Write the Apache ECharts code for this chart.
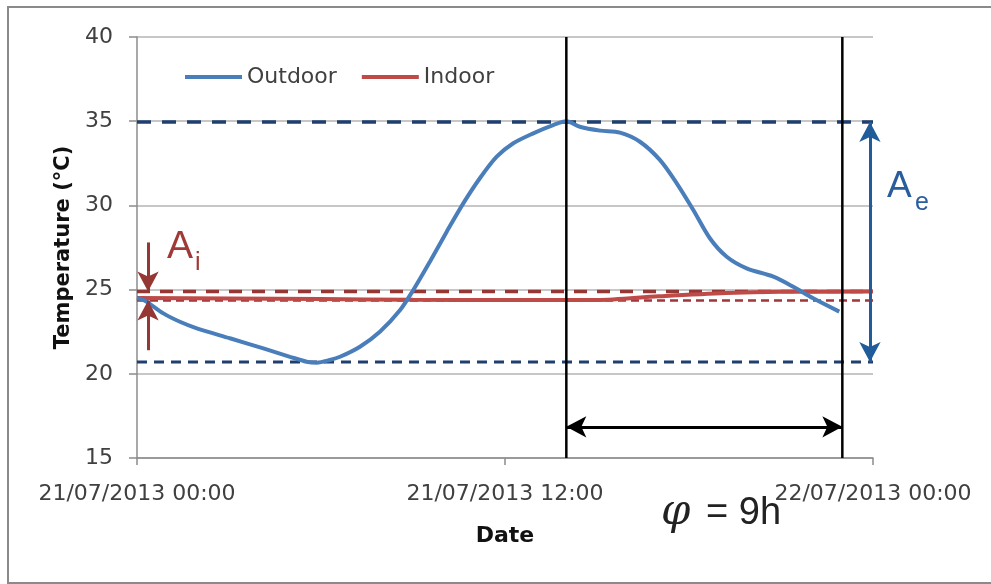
<!DOCTYPE html>
<html><head><meta charset="utf-8">
<script src="https://cdn.jsdelivr.net/npm/echarts@6/dist/echarts.min.js"></script>
<style>html,body{margin:0;padding:0;background:#fff}#c{width:991px;height:584px}</style>
</head><body><div id="c"></div>
<script>
// ---- data ----
const xTickLabels = ['21/07/2013 00:00', '21/07/2013 12:00', '22/07/2013 00:00'];
const outdoorHours = [0, 0.26, 0.86, 1.4, 1.95, 3.03, 4.12, 4.99, 5.53, 5.86, 6.29, 6.62, 7.27, 7.92, 8.58, 9.01, 9.55, 10.1, 10.64, 11.18, 11.73, 12.27, 12.92, 13.57, 14.0, 14.44, 15.1, 15.75, 16.4, 17.05, 17.6, 18.14, 18.68, 19.23, 19.88, 20.75, 21.4, 22.05, 22.9];
const outdoorTemp  = [24.5, 24.34, 23.59, 23.09, 22.7, 22.11, 21.51, 21.01, 20.72, 20.66, 20.82, 21.01, 21.61, 22.5, 23.79, 24.98, 26.66, 28.44, 30.12, 31.61, 32.89, 33.69, 34.28, 34.77, 35.0, 34.67, 34.44, 34.32, 33.78, 32.7, 31.31, 29.73, 28.05, 26.95, 26.26, 25.77, 25.17, 24.48, 23.69];
const indoorHours = [0, 3, 6, 9, 12, 15, 17, 19.2, 21, 24];
const indoorTemp  = [24.5, 24.47, 24.44, 24.4, 24.38, 24.38, 24.6, 24.8, 24.87, 24.88];
const outdoorMax = 34.95, outdoorMin = 20.7;
const indoorMax = 24.88, indoorMin = 24.35;
const outdoorPeakHour = 14, indoorPeakHour = 23;
const phaseArrowLevel = 16.85;
const aeArrowHour = 23.9;
const aiArrowHour = 0.36;
const aiArrowTop = 27.8, aiArrowBottom = 21.4;
const xMin = 0, xMax = 24, xInterval = 12;
const yMin = 15, yMax = 40, yInterval = 5;

const zip = (a, b) => a.map((v, i) => [v, b[i]]);
const hLine = (v) => [[xMin, v], [xMax, v]];
const vLine = (h) => [[h, yMin], [h, yMax]];

const chart = echarts.init(document.getElementById('c'), null, {renderer: 'canvas'});
const labelFont = 'DejaVu Sans';
const option = {
  animation: false,
  backgroundColor: '#fff',
  grid: {left: 137, right: 118, top: 37, bottom: 126},
  legend: {
    data: ['Outdoor', 'Indoor'],
    left: 185, top: 66, padding: 0,
    icon: 'rect', itemWidth: 57, itemHeight: 4, itemGap: 25,
    textStyle: {fontFamily: labelFont, fontSize: 22, color: '#404040'}
  },
  xAxis: {
    type: 'value', min: xMin, max: xMax, interval: xInterval,
    name: 'Date', nameLocation: 'middle', nameGap: 67,
    nameTextStyle: {fontFamily: labelFont, fontSize: 22, fontWeight: 'bold', color: '#111'},
    axisLine: {lineStyle: {color: '#8c8c8c', width: 1.5}},
    axisTick: {show: true, length: 7, lineStyle: {color: '#8c8c8c', width: 1.5}},
    splitLine: {show: false},
    axisLabel: {
      margin: 25, fontFamily: labelFont, fontSize: 22, color: '#404040',
      formatter: (v) => xTickLabels[Math.round((v - xMin) / xInterval)] || ''
    }
  },
  yAxis: {
    type: 'value', min: yMin, max: yMax, interval: yInterval,
    name: 'Temperature (°C)', nameLocation: 'middle', nameGap: 63,
    nameTextStyle: {fontFamily: labelFont, fontSize: 21, fontWeight: 'bold', color: '#111'},
    axisLine: {show: true, lineStyle: {color: '#8c8c8c', width: 1.5}},
    axisTick: {show: true, length: 8, lineStyle: {color: '#8c8c8c', width: 1.5}},
    splitLine: {lineStyle: {color: '#b4b4b4', width: 1.5}},
    axisLabel: {margin: 24, fontFamily: labelFont, fontSize: 22, color: '#404040'}
  },
  series: [
    {name: 'OutMaxRef', type: 'line', data: hLine(outdoorMax), symbol: 'none', z: 1,
     lineStyle: {color: '#1f3f6e', width: 3.5, type: [14, 11]}},
    {name: 'OutMinRef', type: 'line', data: hLine(outdoorMin), symbol: 'none', z: 1,
     lineStyle: {color: '#1f3f6e', width: 3, type: [10, 7]}},
    {name: 'InMaxRef', type: 'line', data: hLine(indoorMax), symbol: 'none', z: 1,
     lineStyle: {color: '#953735', width: 3.5, type: [13, 10]}},
    {name: 'InMinRef', type: 'line', data: hLine(indoorMin), symbol: 'none', z: 1,
     lineStyle: {color: '#a0353a', width: 2.5, type: [8, 5]}},
    {name: 'Indoor', type: 'line', data: zip(indoorHours, indoorTemp), symbol: 'none', smooth: 0.3, z: 3,
     color: '#be4b48', lineStyle: {color: '#be4b48', width: 4}},
    {name: 'Outdoor', type: 'line', data: zip(outdoorHours, outdoorTemp), symbol: 'none', smooth: 0.3, z: 4,
     color: '#4a7ebb', lineStyle: {color: '#4a7ebb', width: 4}},
    {name: 'PeakOut', type: 'line', data: vLine(outdoorPeakHour), symbol: 'none', z: 6,
     lineStyle: {color: '#000', width: 2.5}},
    {name: 'PeakIn', type: 'line', data: vLine(indoorPeakHour), symbol: 'none', z: 6,
     lineStyle: {color: '#000', width: 2.5}},
    {name: 'Arrows', type: 'line', data: [], z: 7,
     markLine: {
       silent: true, animation: false, label: {show: false},
       data: [
         [{coord: [outdoorPeakHour, phaseArrowLevel], symbol: 'arrow', symbolSize: [16, 20], lineStyle: {color: '#000', width: 3, type: 'solid'}},
          {coord: [indoorPeakHour, phaseArrowLevel], symbol: 'arrow', symbolSize: [16, 20]}],
         [{coord: [aeArrowHour, outdoorMax], symbol: 'arrow', symbolSize: [16, 20], lineStyle: {color: '#1f5c99', width: 3, type: 'solid'}},
          {coord: [aeArrowHour, outdoorMin], symbol: 'arrow', symbolSize: [16, 20]}],
         [{coord: [aiArrowHour, aiArrowTop], symbol: 'none', lineStyle: {color: '#953735', width: 3, type: 'solid'}},
          {coord: [aiArrowHour, indoorMax], symbol: 'arrow', symbolSize: [16, 20]}],
         [{coord: [aiArrowHour, aiArrowBottom], symbol: 'none', lineStyle: {color: '#953735', width: 3, type: 'solid'}},
          {coord: [aiArrowHour, indoorMin], symbol: 'arrow', symbolSize: [16, 20]}]
       ]
     }}
  ],
  graphic: [
    {type: 'rect', shape: {x: 8, y: 7, width: 1000, height: 576}, style: {fill: 'none', stroke: '#8a8a8a', lineWidth: 2}, silent: true, z: -10},
    {type: 'text', left: 167, top: 228, style: {text: 'A', font: '39px "Liberation Sans"', fill: '#a03a38'}},
    {type: 'text', left: 195, top: 251, style: {text: 'i', font: '25px "Liberation Sans"', fill: '#a03a38'}},
    {type: 'text', left: 887, top: 168, style: {text: 'A', font: '37px "Liberation Sans"', fill: '#2a5d9c'}},
    {type: 'text', left: 915, top: 191, style: {text: 'e', font: '25px "Liberation Sans"', fill: '#2a5d9c'}},
    {type: 'text', left: 661, top: 492, style: {text: 'φ', font: 'italic 42px "DejaVu Serif"', fill: '#222'}},
    {type: 'text', left: 706, top: 495, style: {text: '= 9h', font: '38px "Liberation Sans"', fill: '#222'}}
  ]
};
chart.setOption(option);
</script></body></html>
